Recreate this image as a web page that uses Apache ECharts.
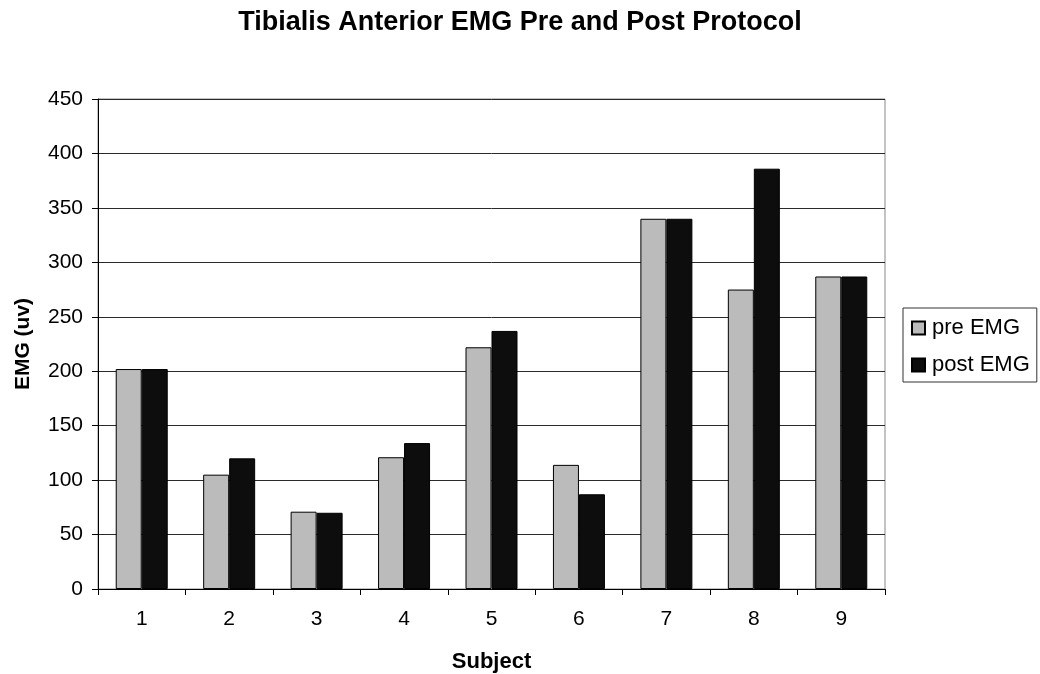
<!DOCTYPE html>
<html>
<head>
<meta charset="utf-8">
<script src="https://cdn.jsdelivr.net/npm/echarts@6/dist/echarts.min.js"></script>
<style>
  html, body { margin: 0; padding: 0; background: #fff; }
  #chart { width: 1040px; height: 674px; }
</style>
</head>
<body>
<div id="chart"></div>
<script>
// Subjects and EMG readings (uv) before and after the protocol
const subjects = ['1', '2', '3', '4', '5', '6', '7', '8', '9'];
const preEMG = [202, 105, 71, 121, 222, 114, 340, 275, 287];
const postEMG = [202, 120, 70, 134, 237, 87, 340, 386, 287];
const chartTitle = 'Tibialis Anterior EMG Pre and Post Protocol';

const FONT = '"Liberation Sans", Arial, sans-serif';

const chart = echarts.init(document.getElementById('chart'), null, { renderer: 'canvas' });

chart.setOption({
  backgroundColor: '#ffffff',
  animation: false,
  textStyle: { fontFamily: FONT, color: '#000' },
  title: {
    text: chartTitle,
    left: 'center',
    top: 9,
    padding: 0,
    textStyle: { fontFamily: FONT, fontSize: 27, fontWeight: 'bold', color: '#000' }
  },
  legend: {
    orient: 'vertical',
    left: 903,
    top: 308,
    icon: 'rect',
    itemWidth: 13,
    itemHeight: 13,
    itemGap: 15,
    padding: [9, 7, 6, 8],
    borderColor: '#333',
    borderWidth: 1,
    textStyle: { fontFamily: FONT, fontSize: 22, color: '#000', padding: [0, 0, 0, 2] },
    data: ['pre EMG', 'post EMG']
  },
  grid: {
    left: 98,
    right: 155,
    top: 99,
    bottom: 85,
    outerBoundsMode: 'none',
    containLabel: false,
    show: true,
    borderColor: '#888',
    borderWidth: 1,
    backgroundColor: '#fff'
  },
  xAxis: {
    type: 'category',
    data: subjects,
    name: 'Subject',
    nameLocation: 'middle',
    nameGap: 62,
    nameTextStyle: { fontFamily: FONT, fontSize: 22, fontWeight: 'bold', color: '#000' },
    axisLine: { lineStyle: { color: '#000', width: 1 } },
    axisTick: { show: true, length: 6, lineStyle: { color: '#000' } },
    axisLabel: { fontFamily: FONT, fontSize: 21, color: '#000', margin: 20 }
  },
  yAxis: {
    type: 'value',
    min: 0,
    max: 450,
    interval: 50,
    name: 'EMG (uv)',
    nameLocation: 'middle',
    nameRotate: 90,
    nameGap: 64,
    nameTextStyle: { fontFamily: FONT, fontSize: 21, fontWeight: 'bold', color: '#000' },
    axisLine: { show: true, lineStyle: { color: '#000', width: 1 } },
    axisTick: { show: true, length: 6, lineStyle: { color: '#000' } },
    axisLabel: { fontFamily: FONT, fontSize: 21, color: '#000', margin: 15 },
    splitLine: { show: true, lineStyle: { color: '#2a2a2a', width: 1 } }
  },
  series: [
    {
      name: 'pre EMG',
      type: 'bar',
      data: preEMG,
      barWidth: 26,
      barGap: '0%',
      itemStyle: { color: '#bbbbbb', borderColor: '#000', borderWidth: 1 }
    },
    {
      name: 'post EMG',
      type: 'bar',
      data: postEMG,
      barWidth: 26,
      barGap: '0%',
      itemStyle: { color: '#0d0d0d', borderColor: '#000', borderWidth: 1 }
    }
  ]
});
</script>
</body>
</html>
